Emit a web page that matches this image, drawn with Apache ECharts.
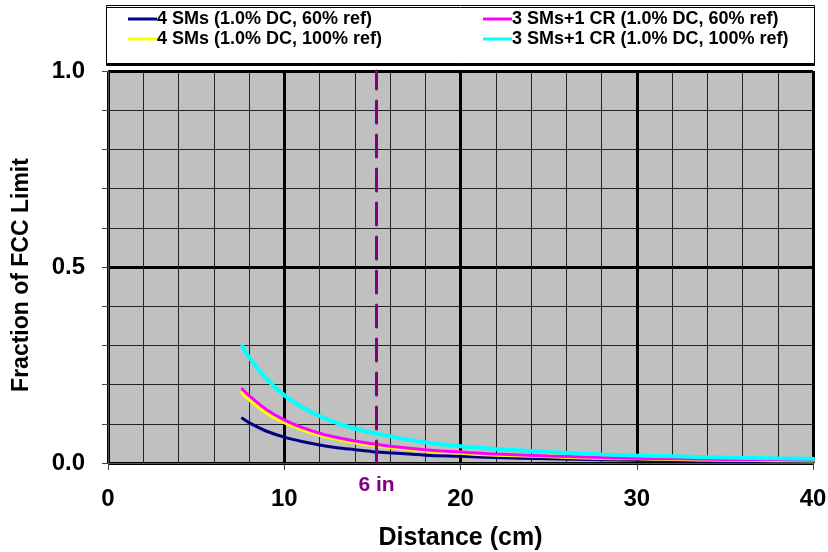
<!DOCTYPE html>
<html><head><meta charset="utf-8">
<script src="https://cdn.jsdelivr.net/npm/echarts@6/dist/echarts.min.js"></script>
<style>html,body{margin:0;padding:0;background:#fff}#c{width:828px;height:552px}</style>
</head><body><div id="c"></div>
<script>
const distances = [7.62, 8, 9, 10, 11, 12, 13, 14, 15, 16, 18, 20, 22, 25, 28, 30, 32, 35, 38, 40];
const sm4_60  = [0.114, 0.103, 0.081, 0.066, 0.055, 0.046, 0.039, 0.034, 0.029, 0.026, 0.020, 0.017, 0.014, 0.011, 0.008, 0.007, 0.006, 0.005, 0.005, 0.004];
const sm4_100 = [0.179, 0.163, 0.128, 0.104, 0.086, 0.072, 0.062, 0.053, 0.046, 0.041, 0.032, 0.026, 0.021, 0.017, 0.013, 0.012, 0.010, 0.008, 0.007, 0.0065];
const cr_60   = [0.189, 0.172, 0.136, 0.110, 0.091, 0.076, 0.065, 0.056, 0.049, 0.043, 0.034, 0.028, 0.023, 0.018, 0.014, 0.012, 0.011, 0.009, 0.008, 0.007];
const cr_100  = [0.298, 0.270, 0.214, 0.173, 0.143, 0.120, 0.102, 0.088, 0.077, 0.068, 0.053, 0.043, 0.036, 0.028, 0.022, 0.019, 0.017, 0.014, 0.012, 0.011];
const seriesNames = ['4 SMs (1.0% DC, 60% ref)', '4 SMs (1.0% DC, 100% ref)', '3 SMs+1 CR (1.0% DC, 60% ref)', '3 SMs+1 CR (1.0% DC, 100% ref)'];
const markerDistance = 15.24;
const markerLabel = '6 in';

const pair = arr => distances.map((d, i) => [d, arr[i]]);
const FONT = 'Liberation Sans, Arial, sans-serif';
const chart = echarts.init(document.getElementById('c'), null, {renderer: 'canvas'});
const lineSeries = (name, data, color, width) => ({
  name, type: 'line', data: pair(data), smooth: 0.3, showSymbol: false, symbol: 'none',
  lineStyle: {color, width, cap: 'round'}, itemStyle: {color}
});
const legendText = {fontFamily: FONT, fontWeight: 'bold', fontSize: 18, lineHeight: 18, color: '#000', padding: [0, 0, 0, -5]};
chart.setOption({
  animation: false,
  backgroundColor: '#fff',
  graphic: [{
    type: 'rect', left: 106, top: 5, z: 0,
    shape: {width: 708, height: 58},
    style: {fill: '#fff', stroke: '#000', lineWidth: 1, shadowColor: '#000', shadowOffsetX: 0, shadowOffsetY: 2, shadowBlur: 0}
  }],
  legend: [
    {data: [seriesNames[0], seriesNames[1]], orient: 'vertical', left: 128, top: 10, padding: 0, itemWidth: 29, itemHeight: 3, itemGap: 2, icon: 'rect', textStyle: legendText, z: 5},
    {data: [seriesNames[2], seriesNames[3]], orient: 'vertical', left: 483, top: 10, padding: 0, itemWidth: 29, itemHeight: 3, itemGap: 2, icon: 'rect', textStyle: legendText, z: 5}
  ],
  grid: {left: 108, right: 15, top: 71, bottom: 89, outerBoundsMode: 'none', containLabel: false, show: true, backgroundColor: '#c0c0c0', borderColor: '#555', borderWidth: 1},
  xAxis: {
    type: 'value', min: 0, max: 40, interval: 10,
    name: 'Distance (cm)', nameLocation: 'middle', nameGap: 63,
    nameTextStyle: {fontFamily: FONT, fontWeight: 'bold', fontSize: 25, color: '#000'},
    axisLine: {show: true, onZero: false, lineStyle: {color: '#555', width: 1}},
    axisTick: {show: true, length: 7, lineStyle: {color: '#444', width: 1}},
    minorTick: {show: false, splitNumber: 5},
    axisLabel: {margin: 24, fontFamily: FONT, fontWeight: 'bold', fontSize: 24, color: '#000'},
    splitLine: {show: true, lineStyle: {color: '#000', width: 3}},
    minorSplitLine: {show: true, lineStyle: {color: '#222', width: 1}}
  },
  yAxis: {
    type: 'value', min: 0, max: 1, interval: 0.5,
    name: 'Fraction of FCC Limit', nameLocation: 'middle', nameGap: 75,
    nameTextStyle: {fontFamily: FONT, fontWeight: 'bold', fontSize: 23, color: '#000', padding: [0, 0, 0, -16]},
    axisLine: {show: true, lineStyle: {color: '#555', width: 1}},
    axisTick: {show: true, length: 6, lineStyle: {color: '#444'}},
    minorTick: {show: true, splitNumber: 5, length: 6, lineStyle: {color: '#444'}},
    axisLabel: {margin: 23, fontFamily: FONT, fontWeight: 'bold', fontSize: 24, color: '#000', formatter: v => v.toFixed(1)},
    splitLine: {show: true, lineStyle: {color: '#000', width: 3}},
    minorSplitLine: {show: true, lineStyle: {color: '#222', width: 1}}
  },
  series: [
    Object.assign(lineSeries(seriesNames[0], sm4_60, '#000080', 3), {
      markLine: {
        silent: true, symbol: 'none', animation: false,
        lineStyle: {color: '#800080', width: 3, type: [22, 12], cap: 'round'},
        label: {show: true, position: 'start', formatter: markerLabel, distance: 12, fontFamily: FONT, fontWeight: 'bold', fontSize: 21, color: '#800080'},
        data: [[{coord: [markerDistance, 0]}, {coord: [markerDistance, 1]}]]
      }
    }),
    lineSeries(seriesNames[1], sm4_100, '#ffff00', 4),
    lineSeries(seriesNames[2], cr_60, '#ff00ff', 3),
    lineSeries(seriesNames[3], cr_100, '#00ffff', 4)
  ]
});
</script>
</body></html>
